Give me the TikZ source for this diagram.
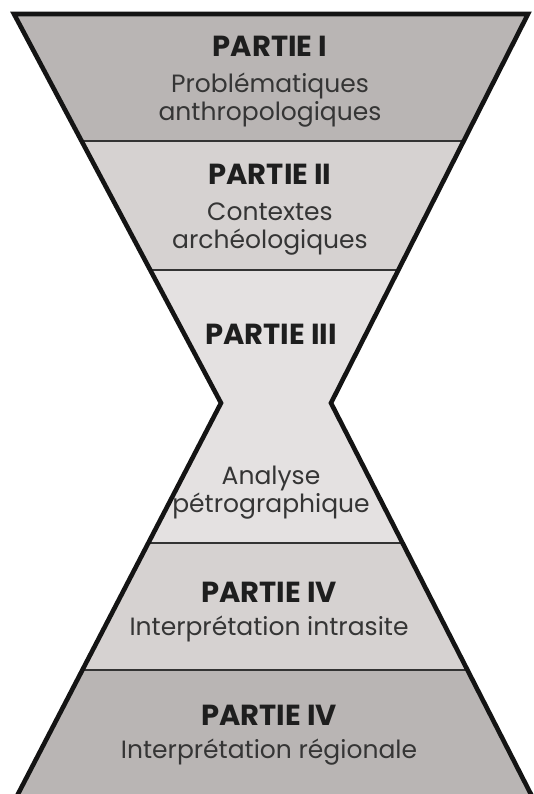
\documentclass[tikz,border=0pt]{standalone}
\usepackage{fontspec}
\setmainfont{Poppins}
\definecolor{fillA}{HTML}{B9B5B4}
\definecolor{fillB}{HTML}{D6D2D1}
\definecolor{fillC}{HTML}{E4E1E1}
\definecolor{txt}{HTML}{1E1E1E}
\tikzset{
  title/.style={font=\bfseries\fontsize{29}{32}\selectfont, text=txt, inner sep=0pt, anchor=base},
  sub/.style={font=\fontsize{25}{28}\selectfont, text=txt!90, inner sep=0pt, align=center, anchor=base},
  divider/.style={draw=black!80, line width=1.4pt},
  outline/.style={draw=black!92, line width=4.6pt, line join=miter, miter limit=10}
}
\begin{document}
\begin{tikzpicture}[x=1pt,y=-1pt]
\useasboundingbox (0,0) rectangle (534,794);
\coordinate (BL) at (9.7,810);
\coordinate (LP) at (221,403);
\coordinate (TL) at (14,14);
\coordinate (TR) at (528,14);
\coordinate (RP) at (331,403);
\coordinate (BR) at (539,810);
\begin{scope}
  \clip (BL) -- (LP) -- (TL) -- (TR) -- (RP) -- (BR) -- cycle;
  \fill[fillC] (0,0) rectangle (534,820);
  \fill[fillA] (0,0) rectangle (534,141);
  \fill[fillB] (0,141) rectangle (534,270);
  \fill[fillB] (0,543) rectangle (534,670);
  \fill[fillA] (0,670) rectangle (534,820);
  \coordinate (d1l) at (0,141); \coordinate (d1r) at (534,141);
  \coordinate (d2l) at (0,270); \coordinate (d2r) at (534,270);
  \coordinate (d3l) at (0,543); \coordinate (d3r) at (534,543);
  \coordinate (d4l) at (0,670); \coordinate (d4r) at (534,670);
  \draw[divider] (d1l) -- (d1r);
  \draw[divider] (d2l) -- (d2r);
  \draw[divider] (d3l) -- (d3r);
  \draw[divider] (d4l) -- (d4r);
\end{scope}
\draw[outline] (BL) -- (LP) -- (TL) -- (TR) -- (RP) -- (BR);

\node[title] (t1) at (270,57) {PARTIE I};
\node[sub] (s1) at (270,121) {Problématiques\\anthropologiques};
\node[title] (t2) at (270,185) {PARTIE II};
\node[sub] (s2) at (270,248) {Contextes\\archéologiques};
\node[title] (t3) at (271,344) {PARTIE III};
\node[sub] (s3) at (271,512) {Analyse\\pétrographique};
\node[title] (t4) at (269,602) {PARTIE IV};
\node[sub] (s4) at (269,635) {Interprétation intrasite};
\node[title] (t5) at (269,725) {PARTIE IV};
\node[sub] (s5) at (269,758) {Interprétation régionale};
\end{tikzpicture}
\end{document}
